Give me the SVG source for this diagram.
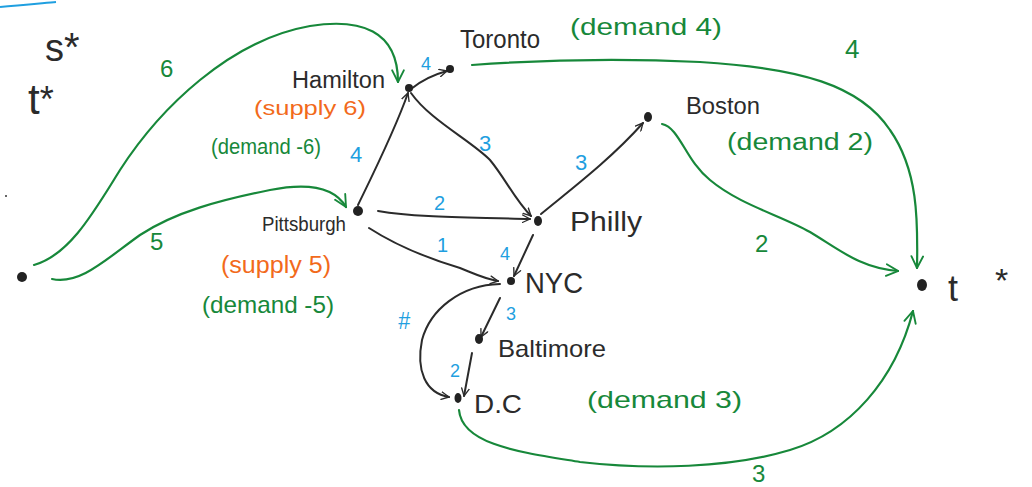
<svg xmlns="http://www.w3.org/2000/svg" width="1032" height="487" viewBox="0 0 1032 487">
<defs>
<style>
.k{fill:#2b2b2b;font-family:"Liberation Sans",Arial,sans-serif}
.g{fill:#17883a;font-family:"Liberation Sans",Arial,sans-serif}
.o{fill:#f26a1b;font-family:"Liberation Sans",Arial,sans-serif}
.b{fill:#1f9fe0;font-family:"Liberation Sans",Arial,sans-serif}
.dot{fill:#222}
.ek{fill:none;stroke:#2b2b2b;stroke-width:2;stroke-linecap:round;marker-end:url(#ak)}
.eg{fill:none;stroke:#17883a;stroke-width:2.2;stroke-linecap:round;marker-end:url(#ag)}
</style>
<marker id="ak" viewBox="0 0 12 12" refX="11" refY="6" markerWidth="9" markerHeight="9" markerUnits="userSpaceOnUse" orient="auto"><path d="M1,1 L11,6 L1,11" fill="none" stroke="#2b2b2b" stroke-width="1.8" stroke-linecap="round"/></marker>
<marker id="ag" viewBox="0 0 12 12" refX="11" refY="6" markerWidth="14" markerHeight="14" markerUnits="userSpaceOnUse" orient="auto"><path d="M1,1 L11,6 L1,11" fill="none" stroke="#17883a" stroke-width="1.6" stroke-linecap="round"/></marker>
</defs>
<rect width="1032" height="487" fill="#fff"/>
<path d="M0,7 C20,5 45,3 56,2" fill="none" stroke="#1f9fe0" stroke-width="2"/>
<text class="k" x="45" y="61" font-size="38">s<tspan font-size="40">*</tspan></text>
<text class="k" x="28" y="114" font-size="42">t<tspan font-size="36" dy="-2">*</tspan></text>
<circle cx="6" cy="196" r="1" fill="#333"/>
<g id="connectors">
<path class="ek" d="M358,205 C375,170 395,130 408,93"/>
<path class="ek" d="M411,89 C422,80 432,75 447,71"/>
<path class="ek" d="M411,93 C430,120 470,140 490,160 C505,178 515,200 531,216"/>
<path class="ek" d="M378,211 C420,218 470,217 530,219"/>
<path class="ek" d="M369,228 C400,248 440,262 460,268 C475,274 485,279 498,281"/>
<path class="ek" d="M541,214 C570,190 610,160 643,123"/>
<path class="ek" d="M533,235 L514,276"/>
<path class="ek" d="M500,298 L481,337"/>
<path class="ek" d="M472,353 L464,396"/>
<path class="ek" d="M500,284 C460,285 430,310 422,340 C416,370 425,393 449,397"/>
<path class="eg" d="M34,265 C70,255 95,210 120,170 C160,108 230,40 310,26 C360,18 398,30 398,82"/>
<path class="eg" d="M52,279 C80,285 105,260 140,235 C175,212 220,200 270,190 C310,182 335,188 346,207"/>
<path class="eg" d="M472,65 C540,60 620,58 700,62 C800,68 860,85 890,130 C918,170 918,220 917,268"/>
<path class="eg" d="M662,124 C680,128 685,160 710,180 C740,205 780,215 810,232 C840,250 860,268 898,271"/>
<path class="eg" d="M459,410 C462,445 520,452 580,462 C650,470 730,468 790,450 C850,432 895,380 913,311"/>
</g>
<g id="source">
<circle class="dot" cx="22" cy="277" r="5"/>
<text class="g" x="160" y="77" font-size="24">6</text>
<text class="g" x="150" y="250" font-size="24">5</text>
</g>
<g id="hamilton">
<circle class="dot" cx="409" cy="88" r="4"/>
<text class="k" x="292" y="88" font-size="23" textLength="93" lengthAdjust="spacingAndGlyphs">Hamilton</text>
<text class="o" x="254" y="115" font-size="21" textLength="112" lengthAdjust="spacingAndGlyphs">(supply  6)</text>
<text class="g" x="211" y="154" font-size="22" textLength="110" lengthAdjust="spacingAndGlyphs">(demand  -6)</text>
<text class="b" x="350" y="162" font-size="22">4</text>
<text class="b" x="479" y="151" font-size="22">3</text>
</g>
<g id="toronto">
<circle class="dot" cx="450" cy="69" r="4"/>
<text class="k" x="460" y="48" font-size="25" textLength="80" lengthAdjust="spacingAndGlyphs">Toronto</text>
<text class="g" x="570" y="35" font-size="24" textLength="152" lengthAdjust="spacingAndGlyphs">(demand   4)</text>
<text class="b" x="421" y="70" font-size="18">4</text>
<text class="g" x="845" y="58" font-size="26">4</text>
</g>
<g id="pittsburgh">
<circle class="dot" cx="358" cy="211" r="5"/>
<text class="k" x="262" y="231" font-size="20" textLength="84" lengthAdjust="spacingAndGlyphs">Pittsburgh</text>
<text class="o" x="221" y="273" font-size="23" textLength="110" lengthAdjust="spacingAndGlyphs">(supply  5)</text>
<text class="g" x="202" y="313" font-size="24" textLength="132" lengthAdjust="spacingAndGlyphs">(demand  -5)</text>
<text class="b" x="434" y="210" font-size="20">2</text>
<text class="b" x="437" y="252" font-size="20">1</text>
</g>
<g id="philly">
<ellipse class="dot" cx="538" cy="221" rx="4" ry="5"/>
<text class="k" x="570" y="231" font-size="28" textLength="72" lengthAdjust="spacingAndGlyphs">Philly</text>
<text class="b" x="575" y="170" font-size="22">3</text>
<text class="b" x="500" y="260" font-size="18">4</text>
</g>
<g id="boston">
<ellipse class="dot" cx="648" cy="117" rx="4" ry="5"/>
<text class="k" x="686" y="114" font-size="24" textLength="74" lengthAdjust="spacingAndGlyphs">Boston</text>
<text class="g" x="727" y="150" font-size="23" textLength="146" lengthAdjust="spacingAndGlyphs">(demand    2)</text>
<text class="g" x="755" y="252" font-size="24">2</text>
</g>
<g id="nyc">
<circle class="dot" cx="511" cy="281" r="4"/>
<text class="k" x="525" y="293" font-size="29" textLength="58" lengthAdjust="spacingAndGlyphs">NYC</text>
<text class="b" x="506" y="320" font-size="18">3</text>
<text class="b" x="398" y="329" font-size="24" font-style="italic" textLength="12" lengthAdjust="spacingAndGlyphs">#</text>
</g>
<g id="baltimore">
<ellipse class="dot" cx="479" cy="339" rx="4" ry="5"/>
<text class="k" x="498" y="357" font-size="24" textLength="108" lengthAdjust="spacingAndGlyphs">Baltimore</text>
<text class="b" x="450" y="377" font-size="18">2</text>
</g>
<g id="dc">
<ellipse class="dot" cx="458" cy="398" rx="3.5" ry="5"/>
<text class="k" x="474" y="413" font-size="26" textLength="48" lengthAdjust="spacingAndGlyphs">D.C</text>
<text class="g" x="587" y="408" font-size="24" textLength="155" lengthAdjust="spacingAndGlyphs">(demand    3)</text>
<text class="g" x="752" y="482" font-size="24">3</text>
</g>
<g id="sink">
<ellipse class="dot" cx="922" cy="285" rx="5" ry="6"/>
<text class="k" x="948" y="301" font-size="36">t</text>
<text class="k" x="995" y="292" font-size="34">*</text>
</g>
</svg>
